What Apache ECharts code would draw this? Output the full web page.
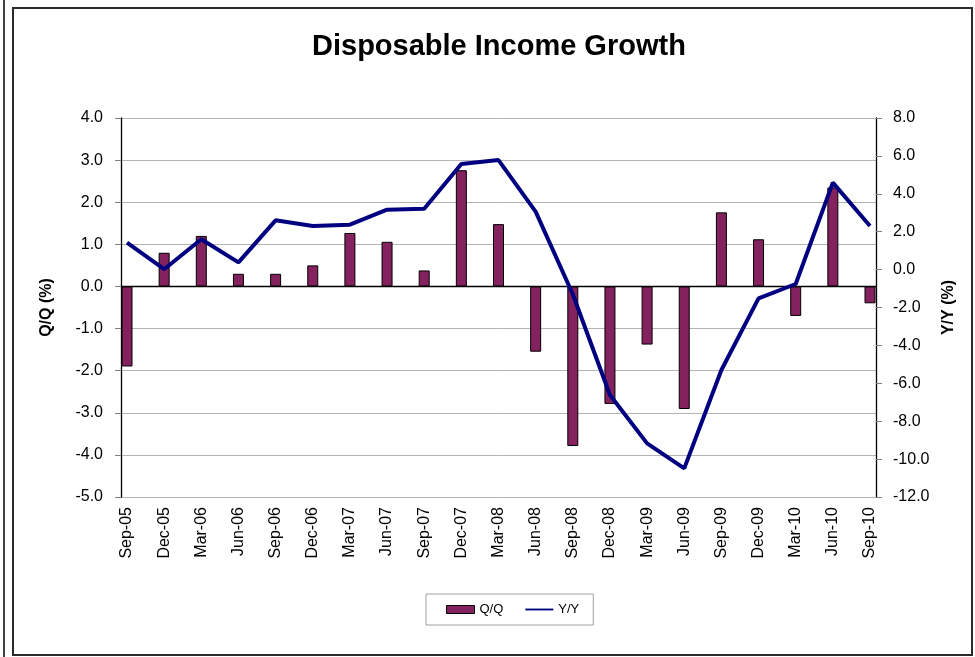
<!DOCTYPE html>
<html><head><meta charset="utf-8">
<script src="https://cdn.jsdelivr.net/npm/echarts@6/dist/echarts.min.js"></script>
<style>html,body{margin:0;padding:0;background:#fff}#c{width:975px;height:657px}</style>
</head><body><div id="c"></div>
<script>
const categories = ['Sep-05','Dec-05','Mar-06','Jun-06','Sep-06','Dec-06','Mar-07','Jun-07','Sep-07','Dec-07','Mar-08','Jun-08','Sep-08','Dec-08','Mar-09','Jun-09','Sep-09','Dec-09','Mar-10','Jun-10','Sep-10'];
const qqValues = [-1.9, 0.8, 1.2, 0.3, 0.3, 0.5, 1.27, 1.06, 0.38, 2.76, 1.48, -1.55, -3.79, -2.79, -1.38, -2.91, 1.76, 1.12, -0.7, 2.35, -0.4];
const yyValues = [1.42, 0.02, 1.6, 0.38, 2.6, 2.3, 2.37, 3.16, 3.21, 5.57, 5.78, 3.06, -1.3, -6.62, -9.17, -10.49, -5.3, -1.52, -0.76, 4.59, 2.3];
const leftTicks = {min: -5, max: 4, interval: 1};
const rightTicks = {min: -12, max: 8, interval: 2};

const FONT = 'Liberation Sans, Arial, sans-serif';
const chart = echarts.init(document.getElementById('c'), null, {renderer: 'canvas'});
const fmt = v => v.toFixed(1);
chart.setOption({
  animation: false,
  backgroundColor: '#fff',
  title: {
    text: 'Disposable Income Growth', left: 307, top: 27,
    textStyle: {fontFamily: FONT, fontSize: 29, fontWeight: 'bold', color: '#000'}
  },
  legend: {
    left: 426, top: 594, padding: [9, 14, 9, 20], itemGap: 22,
    borderColor: '#a0a0a0', borderWidth: 1,
    textStyle: {fontFamily: FONT, fontSize: 13, color: '#000'},
    data: [
      {name: 'Q/Q', icon: 'rect', itemStyle: {color: '#84215f', borderColor: '#000', borderWidth: 1}},
      {name: 'Y/Y', icon: 'path://M0,0H30V2H0Z', itemStyle: {color: '#000080', borderWidth: 0}}
    ],
    itemWidth: 28, itemHeight: 8, itemTextGap: 2
  },
  grid: [
    {left: 121, right: 99, top: 118, bottom: 160},
    {left: 127, right: 105, top: 118, bottom: 160}
  ],
  xAxis: [
    {type: 'category', gridIndex: 0, data: categories, boundaryGap: true,
     axisLine: {show: true, onZero: true, lineStyle: {color: '#000', width: 1.3}},
     axisTick: {show: false}, axisLabel: {show: false}, splitLine: {show: false}},
    {type: 'category', gridIndex: 1, data: categories, boundaryGap: false,
     axisLine: {show: false}, axisTick: {show: false},
     axisLabel: {show: true, interval: 0, rotate: 90, margin: 10, fontFamily: FONT, fontSize: 16, color: '#000'}}
  ],
  yAxis: [
    {type: 'value', gridIndex: 0, position: 'left', min: leftTicks.min, max: leftTicks.max, interval: leftTicks.interval,
     name: 'Q/Q (%)', nameLocation: 'middle', nameGap: 66, nameRotate: 90,
     nameTextStyle: {fontFamily: FONT, fontSize: 16, fontWeight: 'bold', color: '#000'},
     axisLine: {show: true, lineStyle: {color: '#000', width: 1.3}},
     axisTick: {show: true, length: 6, lineStyle: {color: '#808080'}},
     axisLabel: {formatter: fmt, margin: 18, fontFamily: FONT, fontSize: 16, color: '#000'},
     splitLine: {show: true, lineStyle: {color: '#b4b4b4', width: 1}}},
    {type: 'value', gridIndex: 0, position: 'right', min: rightTicks.min, max: rightTicks.max, interval: rightTicks.interval,
     name: 'Y/Y (%)', nameLocation: 'middle', nameGap: 57, nameRotate: 90,
     nameTextStyle: {fontFamily: FONT, fontSize: 16, fontWeight: 'bold', color: '#000'},
     axisLine: {show: true, lineStyle: {color: '#000', width: 1.3}},
     axisTick: {show: true, length: 6, lineStyle: {color: '#808080'}},
     axisLabel: {formatter: fmt, margin: 17, fontFamily: FONT, fontSize: 16, color: '#000'},
     splitLine: {show: false}},
    {type: 'value', gridIndex: 1, min: leftTicks.min, max: leftTicks.max, show: false},
    {type: 'value', gridIndex: 1, min: rightTicks.min, max: rightTicks.max, show: false}
  ],
  series: [
    {name: 'Q/Q', type: 'bar', xAxisIndex: 1, yAxisIndex: 2, data: qqValues, barWidth: 11,
     itemStyle: {color: '#84215f', borderColor: '#000', borderWidth: 1}},
    {name: 'Y/Y', type: 'line', xAxisIndex: 1, yAxisIndex: 3, data: yyValues, symbol: 'none',
     lineStyle: {color: '#000080', width: 4}, itemStyle: {color: '#000080'}, z: 5}
  ],
  graphic: [
    {type: 'rect', shape: {x: 13, y: 8, width: 959, height: 647}, style: {fill: 'none', stroke: '#2a2a2a', lineWidth: 2}, silent: true},
    {type: 'line', shape: {x1: 4, y1: 0, x2: 4, y2: 657}, style: {stroke: '#444', lineWidth: 2}, silent: true}
  ]
});
</script></body></html>
